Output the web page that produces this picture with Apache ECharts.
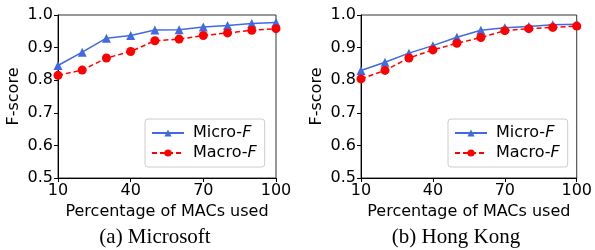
<!DOCTYPE html>
<html>
<head>
<meta charset="utf-8">
<script src="https://cdn.jsdelivr.net/npm/echarts@6/dist/echarts.min.js"></script>
<style>
  body { margin: 0; background: #fff; }
  #chart { width: 595px; height: 250px; }
</style>
</head>
<body>
<div id="chart"></div>
<script>
// percentage of MACs used
var pct = [10, 20, 30, 40, 50, 60, 70, 80, 90, 100];

// (a) Microsoft
var msMicro = [0.845, 0.886, 0.929, 0.937, 0.954, 0.955, 0.963, 0.968, 0.974, 0.977];
var msMacro = [0.815, 0.831, 0.868, 0.888, 0.921, 0.926, 0.937, 0.945, 0.953, 0.958];

// (b) Hong Kong
var hkMicro = [0.830, 0.855, 0.883, 0.906, 0.932, 0.953, 0.961, 0.965, 0.970, 0.972];
var hkMacro = [0.804, 0.830, 0.868, 0.893, 0.913, 0.931, 0.952, 0.958, 0.962, 0.966];

var captions = ['(a) Microsoft', '(b) Hong Kong'];

var font = 'DejaVu Sans';
var blue = '#4169e1';
var red = '#ff0000';

function pairs(xs, ys) {
    return xs.map(function (x, i) { return [x, ys[i]]; });
}

function makeXAxis(idx) {
    return {
        type: 'value', gridIndex: idx, min: 10, max: 100, interval: 30,
        name: 'Percentage of MACs used', nameLocation: 'middle', nameGap: 21,
        nameTextStyle: { color: '#000', fontSize: 16, fontFamily: font },
        axisLine: { lineStyle: { color: '#000', width: 1 } },
        axisTick: { length: 4, lineStyle: { color: '#000' } },
        axisLabel: { color: '#000', fontSize: 16, fontFamily: font, margin: 5 },
        splitLine: { show: false }
    };
}

function makeYAxis(idx) {
    return {
        type: 'value', gridIndex: idx, min: 0.5, max: 1.0, interval: 0.1,
        name: 'F-score', nameLocation: 'middle', nameGap: 36,
        nameTextStyle: { color: '#000', fontSize: 16, fontFamily: font },
        axisLine: { show: true, lineStyle: { color: '#000', width: 1 } },
        axisTick: { show: true, length: 4, lineStyle: { color: '#000' } },
        axisLabel: { color: '#000', fontSize: 16, fontFamily: font, margin: 5,
            formatter: function (v) { return v.toFixed(1); } },
        splitLine: { show: false }
    };
}

function makeLegend(left) {
    return {
        left: left, top: 119, orient: 'vertical',
        data: ['Micro-F', 'Macro-F'],
        itemWidth: 32, itemHeight: 9, itemGap: 4,
        padding: [6, 8, 6, 6],
        borderColor: '#cccccc', borderWidth: 1, borderRadius: 3,
        formatter: function (name) {
            return '{n|' + name.slice(0, -1) + '}{i|F}';
        },
        textStyle: {
            padding: [0, 0, 0, 4],
            rich: {
                n: { fontSize: 16, fontFamily: font, color: '#000' },
                i: { fontSize: 16, fontFamily: font, fontStyle: 'italic', color: '#000' }
            }
        }
    };
}

function microSeries(idx, data) {
    return {
        type: 'line', name: 'Micro-F', xAxisIndex: idx, yAxisIndex: idx,
        data: pairs(pct, data), symbol: 'triangle', symbolSize: 9,
        itemStyle: { color: blue }, lineStyle: { color: blue, width: 1.5 }
    };
}

function macroSeries(idx, data) {
    return {
        type: 'line', name: 'Macro-F', xAxisIndex: idx, yAxisIndex: idx,
        data: pairs(pct, data), symbol: 'circle', symbolSize: 9,
        itemStyle: { color: red }, lineStyle: { color: red, width: 1.5, type: [5, 3] }
    };
}

var captionStyle = { fontFamily: 'Liberation Serif', fontSize: 21, fontWeight: 'normal', color: '#000' };

var chart = echarts.init(document.getElementById('chart'));
chart.setOption({
    animation: false,
    backgroundColor: '#fff',
    title: [
        { text: captions[0], left: 155, top: 227, textAlign: 'center', padding: 0, textStyle: captionStyle },
        { text: captions[1], left: 456, top: 227, textAlign: 'center', padding: 0, textStyle: captionStyle }
    ],
    grid: [
        { left: 58, top: 15, width: 218, height: 163, show: true, borderColor: '#333', borderWidth: 1 },
        { left: 361, top: 15, width: 218, height: 163, show: true, borderColor: '#333', borderWidth: 1 }
    ],
    legend: [makeLegend(145), makeLegend(448)],
    xAxis: [makeXAxis(0), makeXAxis(1)],
    yAxis: [makeYAxis(0), makeYAxis(1)],
    series: [
        microSeries(0, msMicro), macroSeries(0, msMacro),
        microSeries(1, hkMicro), macroSeries(1, hkMacro)
    ]
});
</script>
</body>
</html>
